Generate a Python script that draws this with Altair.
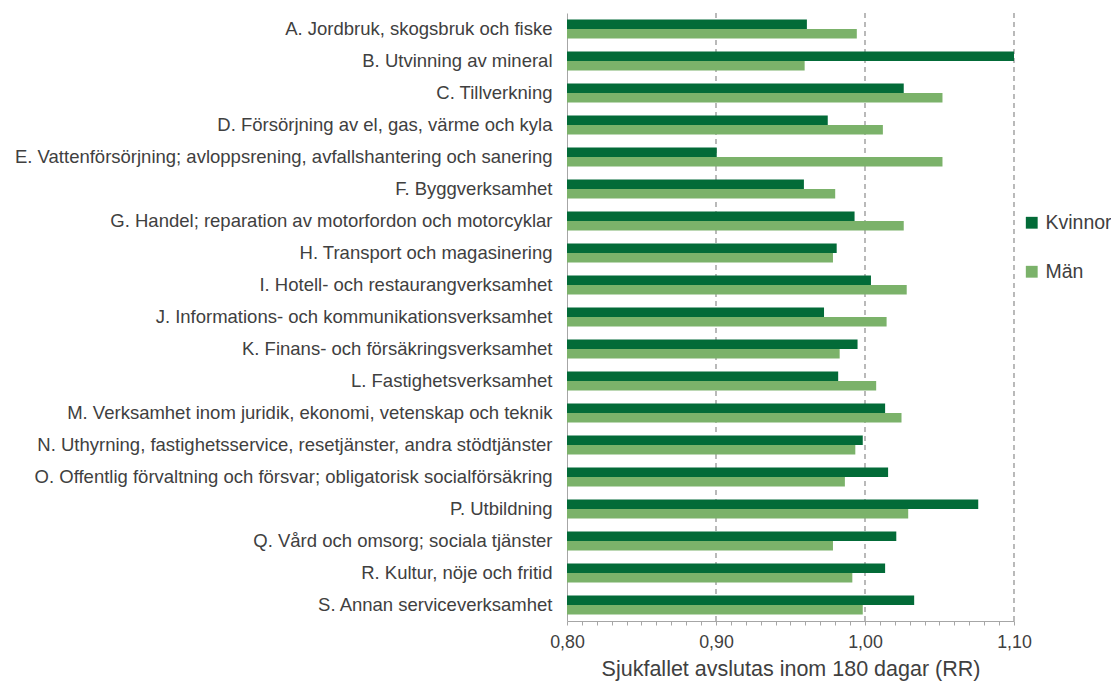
import altair as alt
import pandas as pd

categories = [
    "A. Jordbruk, skogsbruk och fiske",
    "B. Utvinning av mineral",
    "C. Tillverkning",
    "D. Försörjning av el, gas, värme och kyla",
    "E. Vattenförsörjning; avloppsrening, avfallshantering och sanering",
    "F. Byggverksamhet",
    "G. Handel; reparation av motorfordon och motorcyklar",
    "H. Transport och magasinering",
    "I. Hotell- och restaurangverksamhet",
    "J. Informations- och kommunikationsverksamhet",
    "K. Finans- och försäkringsverksamhet",
    "L. Fastighetsverksamhet",
    "M. Verksamhet inom juridik, ekonomi, vetenskap och teknik",
    "N. Uthyrning, fastighetsservice, resetjänster, andra stödtjänster",
    "O. Offentlig förvaltning och försvar; obligatorisk socialförsäkring",
    "P. Utbildning",
    "Q. Vård och omsorg; sociala tjänster",
    "R. Kultur, nöje och fritid",
    "S. Annan serviceverksamhet",
]
kvinnor = [0.961, 1.100, 1.026, 0.975, 0.9005, 0.959, 0.993, 0.981, 1.004, 0.9725,
           0.995, 0.982, 1.0135, 0.9985, 1.0155, 1.076, 1.021, 1.0135, 1.033]
man = [0.9945, 0.9595, 1.052, 1.012, 1.052, 0.980, 1.026, 0.9785, 1.028, 1.0145,
       0.983, 1.0075, 1.0245, 0.9935, 0.9865, 1.029, 0.9785, 0.9915, 0.9985]
series = ["Kvinnor", "Män"]
colors = ["#036b38", "#7bb26a"]
grid_values = [0.90, 1.00, 1.10]
tick_values = [0.80, 0.81, 0.82, 0.83, 0.84, 0.85, 0.86, 0.87, 0.88, 0.89,
               0.90, 0.91, 0.92, 0.93, 0.94, 0.95, 0.96, 0.97, 0.98, 0.99,
               1.00, 1.01, 1.02, 1.03, 1.04, 1.05, 1.06, 1.07, 1.08, 1.09, 1.10]

rows = []
for c, k, m in zip(categories, kvinnor, man):
    rows.append({"bransch": c, "kon": "Kvinnor", "rr": k})
    rows.append({"bransch": c, "kon": "Män", "rr": m})
df = pd.DataFrame(rows)
grid_df = pd.DataFrame({"v": grid_values})

xscale = alt.Scale(domain=[0.80, 1.10], zero=False, clamp=True, nice=False)
xaxis = alt.Axis(
    values=tick_values,
    labelExpr="round(datum.value*100) % 10 == 0 ? replace(format(datum.value, '.2f'), '.', ',') : ''",
    grid=False,
    tickSize=4,
    tickColor="#a6a6a6",
    domainColor="#a6a6a6",
    labelFontSize=17.8,
    labelColor="#404040",
    labelPadding=8,
    labelOverlap=False,
    labelFlush=False,
    labelSeparation=0,
    titleFontSize=21.5,
    titleFontWeight="normal",
    titleColor="#404040",
    titlePadding=8,
)
xtitle = "Sjukfallet avslutas inom 180 dagar (RR)"

grid = alt.Chart(grid_df).mark_rule(color="#8c8c8c", strokeDash=[5, 4], strokeWidth=1.2).encode(
    x=alt.X("v:Q", scale=xscale, axis=xaxis, title=xtitle)
)

bars = alt.Chart(df).mark_bar().encode(
    x=alt.X("rr:Q", scale=xscale, axis=xaxis, title=xtitle),
    x2=alt.X2(datum=0.80),
    y=alt.Y(
        "bransch:N",
        sort=categories,
        title=None,
        scale=alt.Scale(paddingInner=0.4, paddingOuter=0.2),
        axis=alt.Axis(
            ticks=False,
            domainColor="#a6a6a6",
            labelFontSize=18.5,
            labelColor="#404040",
            labelPadding=15,
            labelLimit=0,
        ),
    ),
    yOffset=alt.YOffset("kon:N", sort=series),
    color=alt.Color(
        "kon:N",
        scale=alt.Scale(domain=series, range=colors),
        legend=alt.Legend(
            title=None,
            orient="none",
            legendX=455,
            legendY=200,
            symbolType="square",
            symbolSize=140,
            symbolStrokeWidth=0,
            labelFontSize=19.5,
            labelColor="#404040",
            rowPadding=28,
            labelOffset=4,
        ),
    ),
)

chart = alt.layer(grid, bars).properties(
    width=447,
    height=608,
    autosize=alt.AutoSizeParams(type="none"),
    padding={"left": 559, "top": 5, "right": 97, "bottom": 60},
).configure(font="Liberation Sans").configure_view(stroke=None).configure_axisX(labelOverlap=False)

chart.save("out.html", embed_options={"renderer": "svg", "actions": False})
